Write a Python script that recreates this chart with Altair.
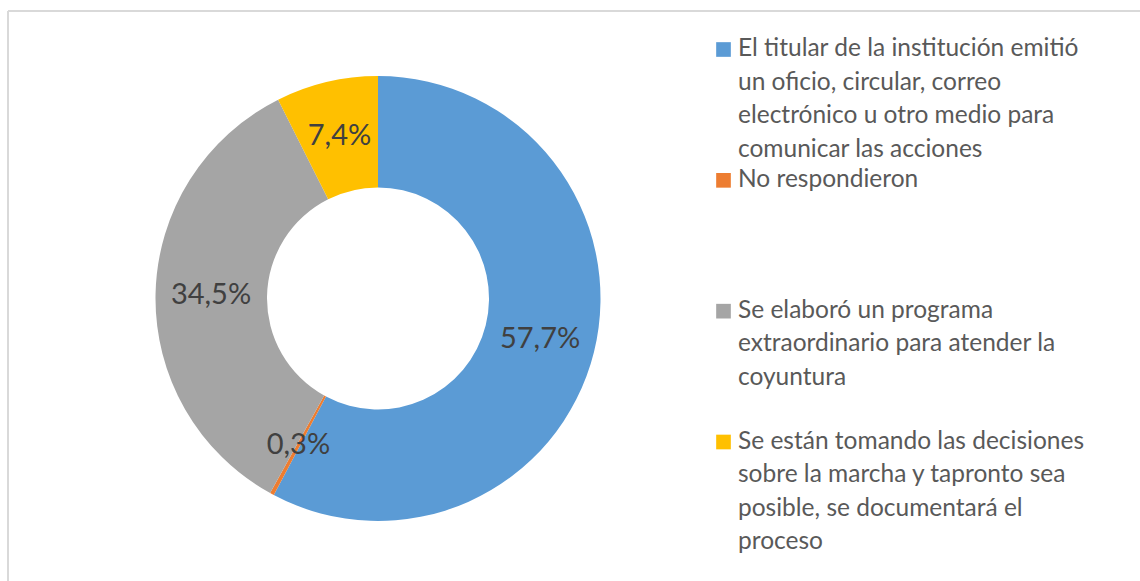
import altair as alt
import pandas as pd

categories = [
    "El titular de la institución emitió un oficio, circular, correo electrónico u otro medio para comunicar las acciones",
    "No respondieron",
    "Se elaboró un programa extraordinario para atender la coyuntura",
    "Se están tomando las decisiones sobre la marcha y tapronto sea posible, se documentará el proceso",
]
legend_lines = [
    "El titular de la institución emitió\nun oficio, circular, correo\nelectrónico u otro medio para\ncomunicar las acciones",
    "No respondieron",
    "Se elaboró un programa\nextraordinario para atender la\ncoyuntura",
    "Se están tomando las decisiones\nsobre la marcha y tapronto sea\nposible, se documentará el\nproceso",
]
values = [57.7, 0.3, 34.5, 7.4]
colors = ["#5B9BD5", "#ED7D31", "#A5A5A5", "#FFC000"]

df = pd.DataFrame({
    "cat": categories,
    "legend": legend_lines,
    "value": values,
    "idx": list(range(len(categories))),
    "label": [f"{v:.1f}".replace(".", ",") + "%" for v in values],
})

FONT = "Lato"
CX, CY = 370, 287.5
W, H = 1132, 570

color = alt.Color("cat:N", scale=alt.Scale(domain=categories, range=colors), legend=None)

base = alt.Chart(df).encode(
    theta=alt.Theta("value:Q", stack=True),
    order=alt.Order("idx:Q"),
)

arcs = base.mark_arc(outerRadius=222.5, innerRadius=111, x=CX, y=CY).encode(color=color)

labels = base.mark_text(
    radius=167, x=CX, y=CY, font=FONT, fontSize=29, color="#404040",
    align="center", baseline="middle",
).encode(text="label:N")

ypos = alt.Y("cat:N", scale=alt.Scale(domain=categories, type="point", range=[38.5, 431], padding=0), axis=None)

squares = alt.Chart(df).mark_square(size=215, opacity=1, x=715.5).encode(
    y=ypos, color=color,
)

legend_text = alt.Chart(df).mark_text(
    x=730, align="left", baseline="top", dy=-12.5, lineBreak="\n",
    font=FONT, fontSize=24.5, lineHeight=33.6, color="#595959",
).encode(y=ypos, text="legend:N")

border_top = alt.Chart(df).mark_rule(color="#d9d9d9", strokeWidth=1.3).encode(
    x=alt.value(0), x2=alt.value(W), y=alt.value(0)
)
border_left = alt.Chart(df).mark_rule(color="#d9d9d9", strokeWidth=1.3).encode(
    x=alt.value(0), y=alt.value(0), y2=alt.value(H)
)

chart = alt.layer(border_top, border_left, arcs, labels, squares, legend_text).properties(
    width=W, height=H,
    padding={"left": 8, "top": 11, "right": 0, "bottom": 0},
    autosize=alt.AutoSizeParams(type="none"),
).configure_view(stroke=None)

chart.save("out.html", embed_options={"renderer": "svg", "actions": False})
